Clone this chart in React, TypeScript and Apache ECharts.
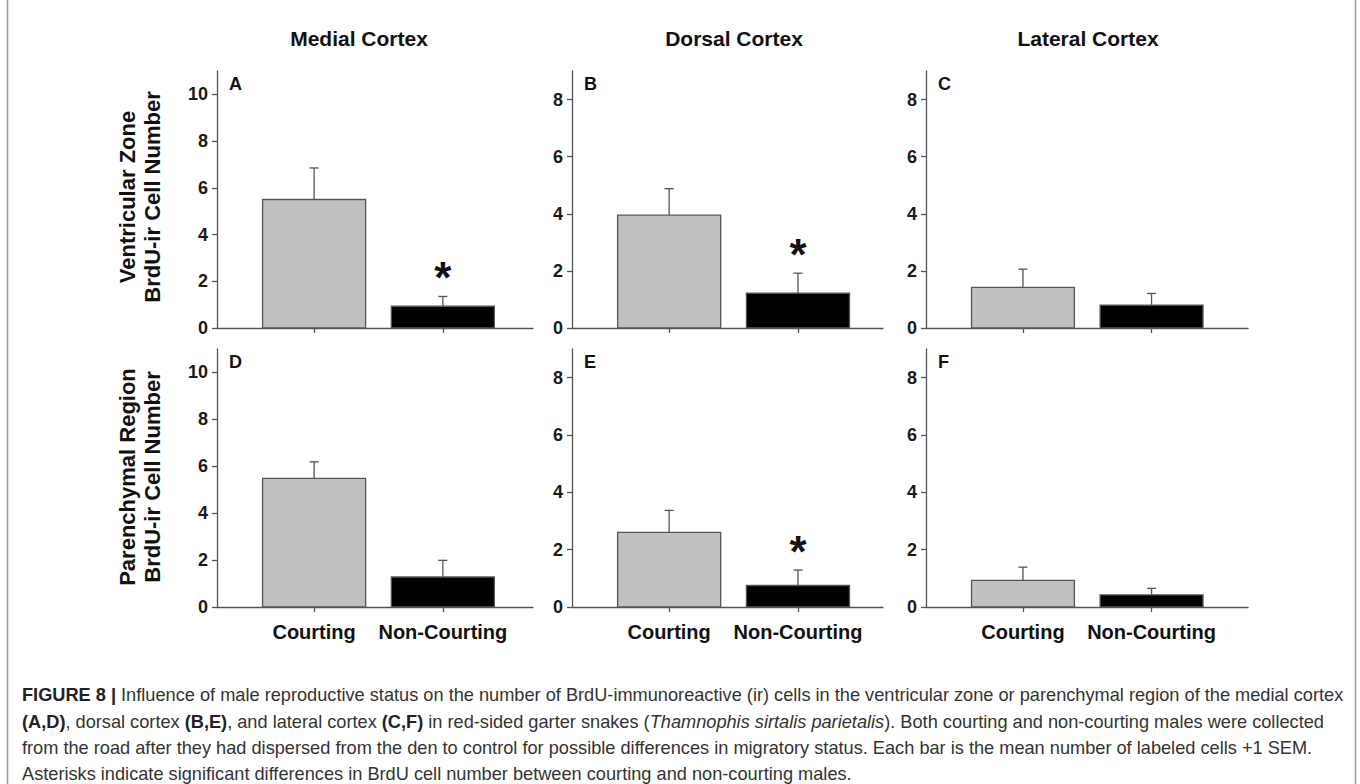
import React, { useEffect, useRef } from "react";
import * as echarts from "echarts";

// ---- data ----
const categories = ["Courting", "Non-Courting"];
const columnTitles = ["Medial Cortex", "Dorsal Cortex", "Lateral Cortex"];
const rowTitles = [
  ["Ventricular Zone", "BrdU-ir Cell Number"],
  ["Parenchymal Region", "BrdU-ir Cell Number"],
];
const panelLetters = ["A", "B", "C", "D", "E", "F"];
const yMax = [11, 9, 9, 11, 9, 9];
const yTickValues = [
  [0, 2, 4, 6, 8, 10],
  [0, 2, 4, 6, 8],
  [0, 2, 4, 6, 8],
  [0, 2, 4, 6, 8, 10],
  [0, 2, 4, 6, 8],
  [0, 2, 4, 6, 8],
];
const courtingMean = [5.5, 3.95, 1.42, 5.48, 2.6, 0.93];
const courtingSem = [1.35, 0.93, 0.64, 0.71, 0.77, 0.46];
const nonCourtingMean = [0.93, 1.22, 0.8, 1.28, 0.75, 0.42];
const nonCourtingSem = [0.42, 0.7, 0.41, 0.71, 0.54, 0.23];
const nonCourtingSignificant = [true, true, false, false, true, false];

const captionLines = [
  "{b|FIGURE 8 |} Influence of male reproductive status on the number of BrdU-immunoreactive (ir) cells in the ventricular zone or parenchymal region of the medial cortex",
  "{b|(A,D)}, dorsal cortex {b|(B,E)}, and lateral cortex {b|(C,F)} in red-sided garter snakes ({i|Thamnophis sirtalis parietalis}). Both courting and non-courting males were collected",
  "from the road after they had dispersed from the den to control for possible differences in migratory status. Each bar is the mean number of labeled cells +1 SEM.",
  "Asterisks indicate significant differences in BrdU cell number between courting and non-courting males.",
];

// ---- layout ----
const colLeft = [217, 572, 926];
const colWidth = [316, 311, 322];
const colXMax = [2.7, 2.66, 2.75];
const xMin = 0.246;
const rowTop = [71, 349];
const rowHeight = [257, 258];
const colTitleX = [359, 734, 1088];
const rowTitleY = [197, 477];
const BAR_UNITS = 0.8;
const AXIS_COLOR = "#555";
const FONT = "'Liberation Sans', Arial, Helvetica, sans-serif";
const CAPTION_SIZE = 18.2;

export default function App() {
  const ref = useRef<HTMLDivElement>(null);

  useEffect(() => {
    document.body.style.margin = "0";
    if (!ref.current) return;
    const chart = echarts.init(ref.current, null, { renderer: "svg" });

    const grids: any[] = [];
    const xAxes: any[] = [];
    const yAxes: any[] = [];
    const series: any[] = [];

    for (let p = 0; p < 6; p++) {
      const row = Math.floor(p / 3);
      const col = p % 3;
      grids.push({
        left: colLeft[col],
        top: rowTop[row],
        width: colWidth[col],
        height: rowHeight[row],
        containLabel: false,
      });
      xAxes.push({
        type: "value",
        gridIndex: p,
        min: xMin,
        max: colXMax[col],
        splitLine: { show: false },
        axisLine: { show: true, lineStyle: { color: AXIS_COLOR, width: 1.3 } },
        axisTick: {
          show: true,
          customValues: [1, 2],
          length: 5,
          lineStyle: { color: AXIS_COLOR, width: 1.3 },
        },
        axisLabel: {
          show: row === 1,
          customValues: [1, 2],
          formatter: (v: number) => categories[Math.round(v) - 1] || "",
          fontFamily: FONT,
          fontWeight: "bold",
          fontSize: 20,
          color: "#111",
          margin: 15,
        },
      });
      yAxes.push({
        type: "value",
        gridIndex: p,
        min: 0,
        max: yMax[p],
        splitLine: { show: false },
        axisLine: { show: true, lineStyle: { color: AXIS_COLOR, width: 1.3 } },
        axisTick: {
          show: true,
          customValues: yTickValues[p],
          length: 5,
          lineStyle: { color: AXIS_COLOR, width: 1.3 },
        },
        axisLabel: {
          customValues: yTickValues[p],
          fontFamily: FONT,
          fontWeight: "bold",
          fontSize: 18,
          color: "#1a1a1a",
          margin: 9,
        },
      });
      const data = [
        [1, courtingMean[p], courtingMean[p] + courtingSem[p], 0, 0],
        [2, nonCourtingMean[p], nonCourtingMean[p] + nonCourtingSem[p], nonCourtingSignificant[p] ? 1 : 0, 1],
      ];
      series.push({
        type: "custom",
        xAxisIndex: p,
        yAxisIndex: p,
        data,
        renderItem: (params: any, api: any) => {
          const x = api.value(0);
          const mean = api.value(1);
          const upper = api.value(2);
          const sig = api.value(3);
          const grp = api.value(4);
          const base = api.coord([x, 0]);
          const top = api.coord([x, mean]);
          const err = api.coord([x, upper]);
          const w = api.size([BAR_UNITS, 0])[0];
          const children: any[] = [
            {
              type: "line",
              shape: { x1: base[0], y1: top[1], x2: base[0], y2: err[1] },
              style: { stroke: AXIS_COLOR, lineWidth: 1.3 },
            },
            {
              type: "line",
              shape: { x1: base[0] - 4.5, y1: err[1], x2: base[0] + 4.5, y2: err[1] },
              style: { stroke: AXIS_COLOR, lineWidth: 1.3 },
            },
            {
              type: "rect",
              shape: { x: base[0] - w / 2, y: top[1], width: w, height: base[1] - top[1] },
              style: { fill: grp ? "#000000" : "#c0c0c0", stroke: AXIS_COLOR, lineWidth: 1.3 },
            },
          ];
          if (sig) {
            children.push({
              type: "text",
              x: base[0],
              y: err[1] - 19,
              style: {
                text: "*",
                fontFamily: FONT,
                fontWeight: "bold",
                fontSize: 44,
                fill: "#111",
                align: "center",
                verticalAlign: "middle",
              },
            });
          }
          return { type: "group", children };
        },
      });
    }

    const graphics: any[] = [];
    for (let p = 0; p < 6; p++) {
      const row = Math.floor(p / 3);
      const col = p % 3;
      graphics.push({
        type: "text",
        left: colLeft[col] + 12,
        top: rowTop[row] + 4,
        style: {
          text: panelLetters[p],
          fontFamily: FONT,
          fontWeight: "bold",
          fontSize: 18,
          fill: "#111",
        },
      });
    }
    for (let c = 0; c < 3; c++) {
      graphics.push({
        type: "text",
        x: colTitleX[c],
        y: 38,
        style: {
          text: columnTitles[c],
          fontFamily: FONT,
          fontWeight: "bold",
          fontSize: 21,
          fill: "#111",
          align: "center",
          verticalAlign: "middle",
        },
      });
    }
    for (let r = 0; r < 2; r++) {
      graphics.push({
        type: "text",
        x: 140,
        y: rowTitleY[r],
        rotation: Math.PI / 2,
        style: {
          text: rowTitles[r].join("\n"),
          fontFamily: FONT,
          fontWeight: "bold",
          fontSize: 22,
          lineHeight: 25,
          fill: "#111",
          align: "center",
          verticalAlign: "middle",
        },
      });
    }
    // figure frame
    graphics.push({
      type: "line",
      shape: { x1: 7.5, y1: 0, x2: 7.5, y2: 784 },
      style: { stroke: "#999", lineWidth: 1.5 },
    });
    graphics.push({
      type: "line",
      shape: { x1: 1355.5, y1: 0, x2: 1355.5, y2: 784 },
      style: { stroke: "#999", lineWidth: 1.5 },
    });
    const captionY = [695, 722, 748, 774];
    captionLines.forEach((line, i) => {
      graphics.push({
        type: "text",
        x: 22,
        y: captionY[i],
        style: {
          text: line,
          fontFamily: FONT,
          fontSize: CAPTION_SIZE,
          fill: "#333",
          verticalAlign: "middle",
          rich: {
            b: { fontFamily: FONT, fontSize: CAPTION_SIZE, fontWeight: "bold", fill: "#222" },
            i: { fontFamily: FONT, fontSize: CAPTION_SIZE, fontStyle: "italic", fill: "#333" },
          },
        },
      });
    });

    chart.setOption({
      animation: false,
      backgroundColor: "#ffffff",
      grid: grids,
      xAxis: xAxes,
      yAxis: yAxes,
      series,
      graphic: graphics,
    });
    return () => chart.dispose();
  }, []);

  return <div ref={ref} style={{ width: 1360, height: 784 }} />;
}
